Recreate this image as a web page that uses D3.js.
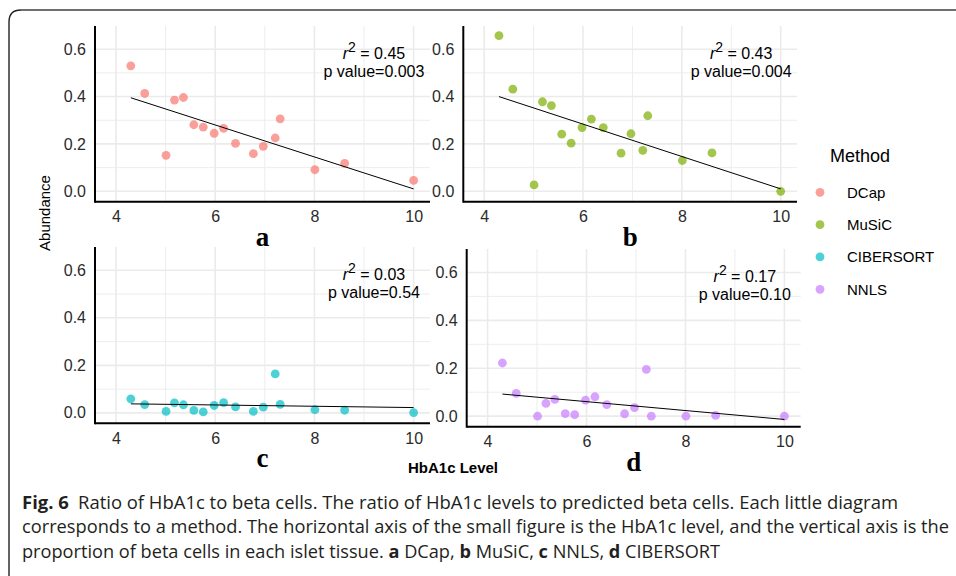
<!DOCTYPE html>
<html><head><meta charset="utf-8">
<script src="https://cdn.jsdelivr.net/npm/d3@7"></script>
<style>body{margin:0;background:#fff} svg{display:block}</style>
</head><body><svg id="c" width="956" height="576"></svg>
<script>
// ---------------- data ----------------
const hba1c = [4.30,4.58,5.01,5.18,5.36,5.57,5.76,5.98,6.17,6.41,6.77,6.97,7.21,7.31,8.01,8.61,10.0];
const dcap = [0.530,0.413,0.152,0.385,0.396,0.281,0.271,0.245,0.266,0.202,0.159,0.190,0.225,0.306,0.091,0.118,0.046];
const music = [0.657,0.431,0.027,0.378,0.362,0.241,0.203,0.269,0.305,0.269,0.161,0.243,0.173,0.319,0.130,0.162,0.0];
const cibersort = [0.059,0.035,0.006,0.042,0.034,0.010,0.004,0.031,0.043,0.025,0.006,0.024,0.164,0.036,0.013,0.011,0.001];
const nnls = [0.222,0.095,0.0,0.053,0.070,0.011,0.006,0.067,0.081,0.048,0.010,0.036,0.195,0.0,0.0,0.003,0.0];
const methods = ["DCap","MuSiC","CIBERSORT","NNLS"];
const methodColors = ["#F8766D","#7CAE00","#00BFC4","#C77CFF"];
const panelLetters = ["a","b","c","d"];
const rSquared = ["0.45","0.43","0.03","0.17"];
const pValues = ["0.003","0.004","0.54","0.10"];
const xTicks = [4,6,8,10];
const xMinor = [5,7,9];
const yTicks = [0.0,0.2,0.4,0.6];
const yMinor = [0.1,0.3,0.5];
const series = [dcap, music, cibersort, nnls];

// ---------------- layout ----------------
const svg = d3.select("#c");
const FONT = "'Liberation Sans', Arial, Helvetica, sans-serif";
const boxes = [
  {l:95,  r:430,   t:26,  b:201.7},
  {l:463.3, r:797, t:26,  b:201.7},
  {l:95,  r:430,   t:247, b:423.3},
  {l:466.7, r:800.7, t:249, b:426.7}
];
const xDomain = [3.578, 10.33];
const yDomain = [-0.044, 0.698];

// outer frame
svg.append("path")
  .attr("d", "M9,600 L9,22 Q9,10 21,10 L980,10")
  .attr("fill","none").attr("stroke","#222").attr("stroke-width",1.4);
svg.append("line").attr("x1",21).attr("x2",980).attr("y1",10).attr("y2",10)
  .attr("stroke","#777").attr("stroke-width",1.6);

series.forEach((vals, i) => {
  const bx = boxes[i];
  const x = d3.scaleLinear().domain(xDomain).range([bx.l, bx.r]);
  const y = d3.scaleLinear().domain(yDomain).range([bx.b, bx.t]);
  const g = svg.append("g");

  // grid
  g.selectAll(".vminor").data(xMinor).join("line")
    .attr("x1", d=>x(d)).attr("x2", d=>x(d)).attr("y1", bx.t).attr("y2", bx.b)
    .attr("stroke","#EBEBEB").attr("stroke-width",0.9);
  g.selectAll(".hminor").data(yMinor).join("line")
    .attr("x1", bx.l).attr("x2", bx.r).attr("y1", d=>y(d)).attr("y2", d=>y(d))
    .attr("stroke","#EBEBEB").attr("stroke-width",0.9);
  g.selectAll(".vmajor").data(xTicks).join("line")
    .attr("x1", d=>x(d)).attr("x2", d=>x(d)).attr("y1", bx.t).attr("y2", bx.b)
    .attr("stroke","#EBEBEB").attr("stroke-width",1.6);
  g.selectAll(".hmajor").data(yTicks).join("line")
    .attr("x1", bx.l).attr("x2", bx.r).attr("y1", d=>y(d)).attr("y2", d=>y(d))
    .attr("stroke","#EBEBEB").attr("stroke-width",1.6);

  // axes text
  const ax = g.append("g").attr("transform",`translate(0,${bx.b})`)
    .call(d3.axisBottom(x).tickValues(xTicks).tickSize(0).tickPadding(9).tickFormat(d3.format("d")));
  const ay = g.append("g").attr("transform",`translate(${bx.l},0)`)
    .call(d3.axisLeft(y).tickValues(yTicks).tickSize(0).tickPadding(9).tickFormat(d3.format(".1f")));
  [ax, ay].forEach(a => {
    a.select(".domain").remove();
    a.selectAll("text").attr("font-family", FONT).attr("font-size", 16).attr("fill","#2b2b2b");
  });

  // axis lines
  g.append("line").attr("x1",bx.l).attr("x2",bx.l).attr("y1",bx.t).attr("y2",bx.b+1)
    .attr("stroke","#000").attr("stroke-width",2);
  g.append("line").attr("x1",bx.l).attr("x2",bx.r).attr("y1",bx.b).attr("y2",bx.b)
    .attr("stroke","#000").attr("stroke-width",2);

  // points
  g.selectAll("circle").data(hba1c.map((h,k)=>[h, vals[k]])).join("circle")
    .attr("cx", d=>x(d[0])).attr("cy", d=>y(d[1])).attr("r", 4.4)
    .attr("fill", methodColors[i]).attr("fill-opacity", 0.7);

  // regression line (least squares)
  const mx = d3.mean(hba1c), my = d3.mean(vals);
  const sxy = d3.sum(hba1c.map((h,k)=>(h-mx)*(vals[k]-my)));
  const sxx = d3.sum(hba1c.map(h=>(h-mx)*(h-mx)));
  const slope = sxy/sxx, icpt = my - slope*mx;
  const ext = d3.extent(hba1c);
  g.append("line")
    .attr("x1", x(ext[0])).attr("y1", y(icpt + slope*ext[0]))
    .attr("x2", x(ext[1])).attr("y2", y(icpt + slope*ext[1]))
    .attr("stroke","#000").attr("stroke-width",1);

  // annotation
  const ann = g.append("g").attr("font-family", FONT).attr("font-size", 16).attr("text-anchor","middle").attr("fill","#000");
  const t1 = ann.append("text").attr("x", x(9.2)).attr("y", bx.t + 33);
  t1.append("tspan").attr("font-style","italic").text("r");
  t1.append("tspan").attr("font-size", 14).attr("dy", -7).text("2");
  t1.append("tspan").attr("dy", 7).text(" = " + rSquared[i]);
  ann.append("text").attr("x", x(9.2)).attr("y", bx.t + 51).text("p value=" + pValues[i]);

  // panel letter
  g.append("text").attr("x", (x(xDomain[0])+x(xDomain[1]))/2 + 0).attr("y", bx.b + 44)
    .attr("text-anchor","middle").attr("font-family","'Liberation Serif','Times New Roman',serif")
    .attr("font-weight","bold").attr("font-size", 27).text(panelLetters[i]);
});

// shared axis titles
svg.append("text").attr("transform","translate(50,213) rotate(-90)")
  .attr("text-anchor","middle").attr("font-family", FONT).attr("font-size", 15).text("Abundance");
svg.append("text").attr("x", 453).attr("y", 473)
  .attr("text-anchor","middle").attr("font-family", FONT).attr("font-weight","bold").attr("font-size", 15).text("HbA1c Level");

// legend
const lg = svg.append("g").attr("font-family", FONT);
lg.append("text").attr("x", 830).attr("y", 162).attr("font-size", 18).text("Method");
const ly = d3.scalePoint().domain(methods).range([192.3, 289.3]);
lg.selectAll("circle").data(methods).join("circle")
  .attr("cx", 820).attr("cy", d=>ly(d)).attr("r", 4.4)
  .attr("fill", (d,i)=>methodColors[i]).attr("fill-opacity", 0.7);
lg.selectAll(".lt").data(methods).join("text")
  .attr("x", 847).attr("y", d=>ly(d)+5.5).attr("font-size", 15).text(d=>d);

// caption
const CAP = "'Open Sans','Noto Sans',sans-serif";
const cap = svg.append("g").attr("font-family", CAP).attr("font-size", 17.5).attr("fill","#231f20");
const c1 = cap.append("text").attr("x", 22).attr("y", 509).attr("textLength", 876).attr("lengthAdjust","spacingAndGlyphs");
c1.append("tspan").attr("font-weight","bold").text("Fig. 6");
c1.append("tspan").text("\u2002Ratio of HbA1c to beta cells. The ratio of HbA1c levels to predicted beta cells. Each little diagram");
cap.append("text").attr("x", 22).attr("y", 533).attr("textLength", 927).attr("lengthAdjust","spacingAndGlyphs")
  .text("corresponds to a method. The horizontal axis of the small figure is the HbA1c level, and the vertical axis is the");
const c3 = cap.append("text").attr("x", 22).attr("y", 558).attr("textLength", 698).attr("lengthAdjust","spacingAndGlyphs");
c3.append("tspan").text("proportion of beta cells in each islet tissue. ");
c3.append("tspan").attr("font-weight","bold").text("a");
c3.append("tspan").text(" DCap, ");
c3.append("tspan").attr("font-weight","bold").text("b");
c3.append("tspan").text(" MuSiC, ");
c3.append("tspan").attr("font-weight","bold").text("c");
c3.append("tspan").text(" NNLS, ");
c3.append("tspan").attr("font-weight","bold").text("d");
c3.append("tspan").text(" CIBERSORT");
</script>
</body></html>
